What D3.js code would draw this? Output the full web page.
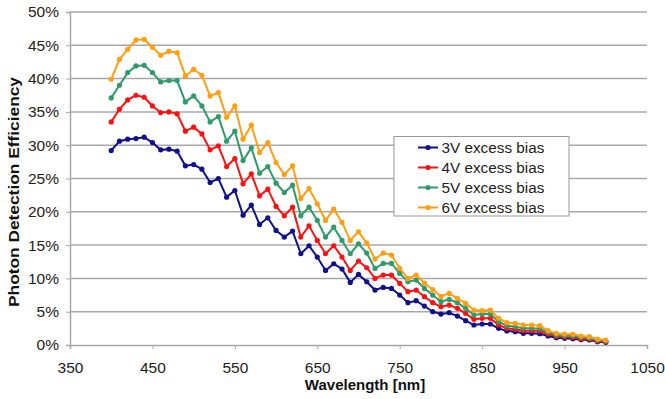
<!DOCTYPE html>
<html><head><meta charset="utf-8">
<script src="https://cdn.jsdelivr.net/npm/d3@7"></script>
<style>
body{margin:0;background:#fff;}
svg{display:block;font-family:"Liberation Sans",Arial,sans-serif;}
</style></head>
<body><svg id="c" width="665" height="399"></svg>
<script>
const wavelengths = d3.range(400, 1001, 10);
const bias3V = [29.2,30.6,30.9,31.0,31.2,30.4,29.3,29.4,29.1,26.9,27.1,26.4,24.4,25.0,22.2,23.2,19.5,21.0,18.1,19.1,17.2,16.2,17.1,13.7,14.9,13.2,11.2,12.2,11.4,9.4,10.6,9.5,8.25,8.65,8.5,7.5,6.35,6.65,5.85,5.0,4.65,4.85,4.35,3.65,3.0,3.15,3.15,2.5,2.1,2.0,1.75,1.75,1.7,1.35,1.1,1.0,0.95,0.8,0.75,0.5,0.4];
const bias4V = [33.5,35.4,36.8,37.5,37.2,35.9,34.9,35.0,34.7,32.1,32.7,31.7,29.3,29.9,26.8,28.0,24.2,25.7,22.4,23.4,20.8,19.4,20.7,16.2,17.9,15.7,13.7,14.9,13.2,11.2,12.6,11.6,10.0,10.5,10.5,9.25,8.0,8.25,7.25,6.35,5.75,6.0,5.5,4.75,3.85,4.0,4.0,3.0,2.5,2.35,2.15,2.15,2.1,1.65,1.3,1.2,1.15,0.95,0.9,0.6,0.5];
const bias5V = [37.1,39.0,40.9,41.9,42.0,40.9,39.5,39.7,39.7,36.5,37.4,35.9,33.5,34.3,30.6,32.1,27.7,29.6,25.8,26.8,24.3,22.9,24.0,19.4,20.7,18.7,16.2,17.7,15.7,13.7,15.2,13.8,11.5,12.25,12.25,10.75,9.5,9.75,8.5,7.5,6.5,6.85,6.35,5.5,4.5,4.65,4.65,3.5,2.9,2.75,2.5,2.5,2.45,1.9,1.5,1.4,1.35,1.15,1.05,0.75,0.6];
const bias6V = [39.9,42.9,44.4,45.8,45.9,44.7,43.5,44.1,43.9,40.4,41.4,40.5,37.4,37.9,34.2,35.9,30.9,33.0,28.9,30.4,27.4,25.6,26.9,22.0,23.5,21.2,18.7,20.4,18.4,15.7,17.0,15.3,12.9,13.8,13.5,11.5,10.0,10.5,9.3,8.3,7.3,7.75,7.0,6.25,5.25,5.15,5.25,4.0,3.35,3.25,3.0,3.0,2.9,2.15,1.75,1.65,1.6,1.35,1.25,0.9,0.75];
const seriesNames = ["3V excess bias","4V excess bias","5V excess bias","6V excess bias"];
const seriesColors = ["#10108a","#ff1010","#2f9a6a","#ff9e10"];
const xTicks = [350,450,550,650,750,850,950,1050];
const yTicks = [0,5,10,15,20,25,30,35,40,45,50];

const series = [bias3V,bias4V,bias5V,bias6V].map((v,i)=>({name:seriesNames[i],color:seriesColors[i],values:v}));

const svg = d3.select("#c");
const x = d3.scaleLinear().domain([350,1050]).range([70,647]);
const y = d3.scaleLinear().domain([0,50]).range([345,12]);
const grid = "#a8a8a8";

// gridlines
svg.append("g").selectAll("line").data(yTicks.filter(d=>d>0)).join("line")
  .attr("x1",x(350)).attr("x2",x(1050)).attr("y1",d=>y(d)).attr("y2",d=>y(d))
  .attr("stroke",grid).attr("stroke-width",1.5);

// y axis
const yAxis = svg.append("g").attr("transform",`translate(${x(350)},0)`)
  .call(d3.axisLeft(y).tickValues(yTicks).tickFormat(d=>d+"%").tickSize(4).tickPadding(7));
// x axis
const xAxis = svg.append("g").attr("transform",`translate(0,${y(0)})`)
  .call(d3.axisBottom(x).tickValues(xTicks).tickFormat(d3.format("d")).tickSize(4).tickPadding(13));
[yAxis,xAxis].forEach(a=>{
  a.selectAll(".domain").attr("stroke",grid).attr("stroke-width",1.5);
  a.selectAll(".tick line").attr("stroke",grid).attr("stroke-width",1);
  a.selectAll("text").attr("font-size",15.5).attr("fill","#222").attr("font-family","Liberation Sans, Arial, sans-serif");
});

// lines
const line = d3.line().x((d,i)=>x(wavelengths[i])).y(d=>y(d));
const sg = svg.append("g").selectAll("g").data(series).join("g");
sg.append("path").attr("d",d=>line(d.values)).attr("fill","none")
  .attr("stroke",d=>d.color).attr("stroke-width",2);
sg.each(function(s){
  d3.select(this).selectAll("circle").data(s.values).join("circle")
    .attr("cx",(d,i)=>x(wavelengths[i])).attr("cy",d=>y(d)).attr("r",2.6).attr("fill",s.color);
});

// axis titles
svg.append("text").attr("x",365).attr("y",390).attr("text-anchor","middle")
  .attr("font-size",15).attr("font-weight","bold").attr("fill","#111").text("Wavelength [nm]");
svg.append("text").attr("transform",`translate(19,192) rotate(-90)`).attr("text-anchor","middle")
  .attr("font-size",14.5).attr("font-weight","bold").attr("fill","#111")
  .attr("textLength",230).attr("lengthAdjust","spacingAndGlyphs").text("Photon Detection Efficiency");

// legend
const lg = svg.append("g");
lg.append("rect").attr("x",394).attr("y",136.5).attr("width",175).attr("height",79.5)
  .attr("fill","#fff").attr("stroke","#999").attr("stroke-width",1);
const le = lg.selectAll("g.e").data(series).join("g").attr("class","e")
  .attr("transform",(d,i)=>`translate(0,${147.5+i*20})`);
le.append("line").attr("x1",418).attr("x2",438).attr("stroke",d=>d.color).attr("stroke-width",2);
le.append("circle").attr("cx",428).attr("r",2.6).attr("fill",d=>d.color);
le.append("text").attr("x",441.5).attr("y",5.5).attr("font-size",15.3).attr("fill","#222").text(d=>d.name);
</script></body></html>
